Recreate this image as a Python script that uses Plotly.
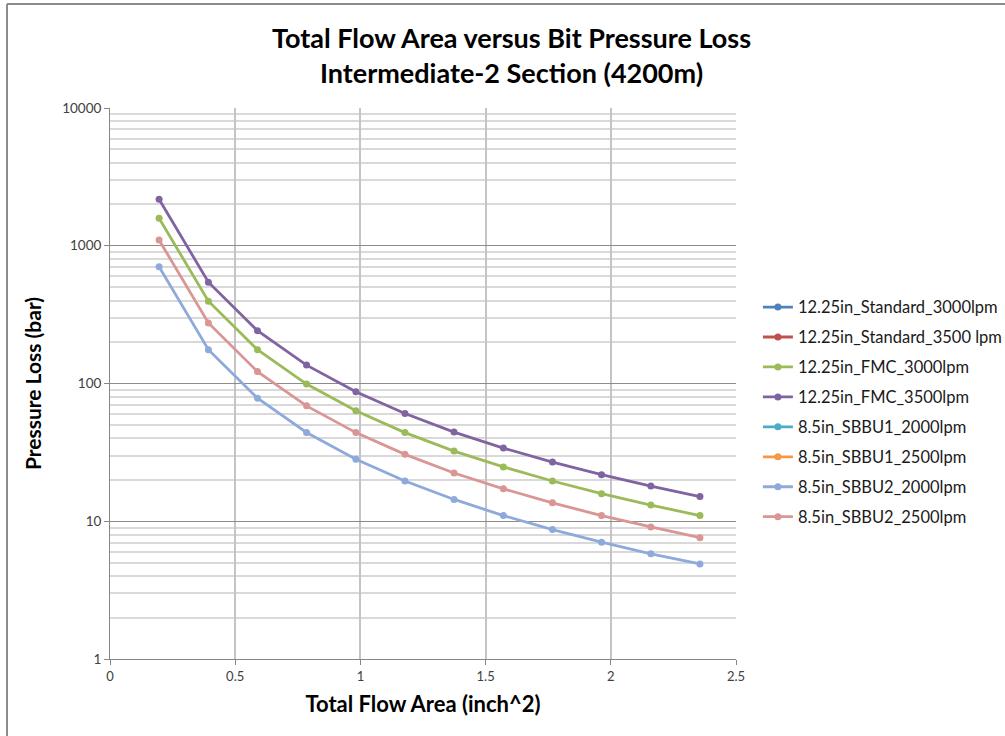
import plotly.graph_objects as go

tfa = [0.196, 0.393, 0.589, 0.785, 0.982, 1.178, 1.374, 1.571, 1.767, 1.963, 2.160, 2.356]

series_names = [
    "12.25in_Standard_3000lpm",
    "12.25in_Standard_3500 lpm",
    "12.25in_FMC_3000lpm",
    "12.25in_FMC_3500lpm",
    "8.5in_SBBU1_2000lpm",
    "8.5in_SBBU1_2500lpm",
    "8.5in_SBBU2_2000lpm",
    "8.5in_SBBU2_2500lpm",
]
std_3000 = [None] * 12
std_3500 = [None] * 12
fmc_3000 = [1585, 396, 176, 99, 63.4, 44.0, 32.3, 24.8, 19.6, 15.85, 13.1, 11.0]
fmc_3500 = [2177, 544, 242, 136, 87, 60.5, 44.4, 34.0, 26.9, 21.8, 18.0, 15.1]
sbbu1_2000 = [None] * 12
sbbu1_2500 = [None] * 12
sbbu2_2000 = [705, 176, 78.3, 44.1, 28.2, 19.6, 14.4, 11.0, 8.7, 7.05, 5.8, 4.9]
sbbu2_2500 = [1100, 275, 122, 68.8, 44.0, 30.6, 22.4, 17.2, 13.6, 11.0, 9.1, 7.6]

series_values = [std_3000, std_3500, fmc_3000, fmc_3500, sbbu1_2000, sbbu1_2500, sbbu2_2000, sbbu2_2500]
colors = ["#4F81BD", "#C0504D", "#9BBB59", "#8064A2", "#4BACC6", "#F79646", "#8EAADB", "#D99694"]

y_major = [1, 10, 100, 1000, 10000]
y_major_text = ["1", "10", "100", "1000", "10000"]
x_ticks = [0, 0.5, 1, 1.5, 2, 2.5]
x_tick_text = ["0", "0.5", "1", "1.5", "2", "2.5"]

minor_vals = [m * 10 ** e for e in range(0, 4) for m in range(2, 10)]

fig = go.Figure()
for i, (name, vals, col) in enumerate(zip(series_names, series_values, colors)):
    fig.add_trace(go.Scatter(
        x=tfa, y=vals, name=name, mode="lines+markers",
        line=dict(color=col, width=2.8),
        marker=dict(color=col, size=7),
        legendgroup=f"g{i}",
    ))

FONT = "Lato"
fig.update_layout(
    width=1005, height=736,
    margin=dict(l=110, r=269, t=108, b=77, autoexpand=False),
    paper_bgcolor="white", plot_bgcolor="white",
    font=dict(family=FONT, color="#404040", size=12),
    showlegend=True,
    legend=dict(
        x=1.035, y=0.67, xanchor="left", yanchor="top",
        font=dict(family=FONT, size=16.5, color="#1a1a1a"),
        tracegroupgap=5.5, itemwidth=30,
        bgcolor="rgba(0,0,0,0)",
    ),
    annotations=[dict(
        text="<b>Total Flow Area versus Bit Pressure Loss<br>Intermediate-2 Section (4200m)</b>",
        x=0.641, y=(659 - 55) / 551, xref="paper", yref="paper",
        xanchor="center", yanchor="middle", showarrow=False,
        font=dict(family=FONT, size=27, color="#000000"),
    )],
    shapes=[
        dict(type="line", xref="paper", yref="paper",
             x0=(7 - 110) / 626, x1=(1005 - 110) / 626,
             y0=(659 - 4) / 551, y1=(659 - 4) / 551,
             line=dict(color="#8c8c8c", width=2)),
        dict(type="line", xref="paper", yref="paper",
             x0=(7 - 110) / 626, x1=(7 - 110) / 626,
             y0=(659 - 4) / 551, y1=(659 - 740) / 551,
             line=dict(color="#8c8c8c", width=2)),
    ],
)

fig.update_xaxes(
    range=[0, 2.5], tickvals=x_ticks, ticktext=x_tick_text,
    showgrid=True, gridcolor="#c4c4c4", gridwidth=1.5,
    showline=True, linecolor="#868686", linewidth=1,
    ticks="outside", ticklen=5, tickcolor="#868686",
    zeroline=False,
    tickfont=dict(family=FONT, size=13, color="#404040"),
    title=dict(text="<b>Total Flow Area (inch^2)</b>",
               font=dict(family=FONT, size=22, color="#000000"), standoff=14),
)
fig.update_yaxes(
    type="log", range=[0, 4], tickvals=y_major, ticktext=y_major_text,
    showgrid=True, gridcolor="#8c8c8c", gridwidth=1,
    showline=True, linecolor="#868686", linewidth=1,
    ticks="outside", ticklen=5, tickcolor="#868686",
    zeroline=False,
    tickfont=dict(family=FONT, size=13.5, color="#404040"),
    minor=dict(tickvals=minor_vals, showgrid=True, gridcolor="#d9d9d9", gridwidth=1.5, ticks=""),
    title=dict(text="<b>Pressure Loss (bar)</b>",
               font=dict(family=FONT, size=21, color="#000000"), standoff=14),
)

fig.write_html("out.html")
